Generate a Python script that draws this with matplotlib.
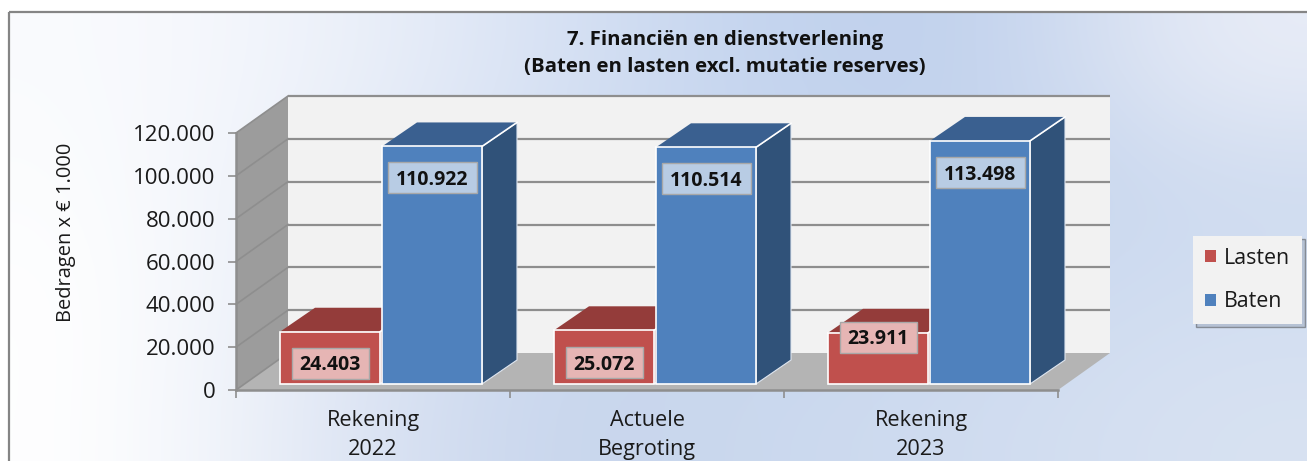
import numpy as np
import matplotlib
matplotlib.use("Agg")
import matplotlib.pyplot as plt
from matplotlib.colors import to_rgb
from matplotlib.patches import Patch, Polygon, Rectangle

# data
categories = ["Rekening\n2022", "Actuele\nBegroting", "Rekening\n2023"]
lasten = [24403, 25072, 23911]
baten = [110922, 110514, 113498]
yticks = [0, 20000, 40000, 60000, 80000, 100000, 120000]

W, H = 1307, 461
plt.rcParams["font.family"] = ["Open Sans", "DejaVu Sans"]

# front plane of the 3d box, in pixels of the figure
ax_left, ax_right, ax_bottom, ax_top = 236, 1058, 390, 133
px_x = 3 / (ax_right - ax_left)
px_y = 120000 / (ax_bottom - ax_top)

fig = plt.figure(figsize=(W / 100, H / 100), dpi=100)

# background gradient
bg = fig.add_axes([0, 0, 1, 1], zorder=0)
bg.set_axis_off()
grid = [
    ["#fafbfe", "#eef2fa", "#d8e2f4", "#c2d3ee", "#bfd0ec", "#e9edf7"],
    ["#fcfdfe", "#e8edf8", "#d2def2", "#c6d5ee", "#c3d3ed", "#d0dcf0"],
    ["#ffffff", "#e4eaf6", "#cad8ef", "#c6d5ee", "#cbd9f0", "#d2def1"],
    ["#ffffff", "#e0e7f5", "#c6d4ec", "#cbd9ee", "#d0dcf0", "#d8e2f2"],
]
img = np.array([[to_rgb(c) for c in row] for row in grid])
bg.imshow(img, extent=(8, W, H, 12), aspect="auto", interpolation="bicubic")
bg.set_xlim(0, W)
bg.set_ylim(H, 0)
bg.add_patch(Rectangle((9, 12), W + 20, H + 20, fc="none", ec="#858585", lw=1.6))

ax = fig.add_axes([ax_left / W, 1 - ax_bottom / H, (ax_right - ax_left) / W,
                   (ax_bottom - ax_top) / H], zorder=1)
ax.patch.set_visible(False)
ax.set_xlim(0, 3)
ax.set_ylim(0, 120000)

depth_x = 52 * px_x
depth_y = 37 * px_y
grey = "#8e8e8e"


def poly(points, color, z, **kw):
    ax.add_patch(Polygon(points, closed=True, fc=color, ec=kw.pop("ec", "none"),
                         clip_on=False, zorder=z, **kw))


# walls and floor
poly([(depth_x, depth_y), (3 + depth_x, depth_y), (3 + depth_x, 120000 + depth_y),
      (depth_x, 120000 + depth_y)], "#f2f2f2", 1)
poly([(0, 0), (depth_x, depth_y), (depth_x, 120000 + depth_y), (0, 120000)], "#9c9c9c", 1)
poly([(0, 0), (3, 0), (3 + depth_x, depth_y), (depth_x, depth_y)], "#b4b4b4", 1)

# gridlines, back wall + side wall
for v in yticks:
    if v > 0:
        ax.plot([depth_x, 3 + depth_x], [v + depth_y, v + depth_y], color=grey, lw=1.6,
                clip_on=False, zorder=2, solid_capstyle="butt")
    ax.plot([0, depth_x], [v, v + depth_y], color=grey, lw=1.2, clip_on=False, zorder=2)

# bars
bar_start = 44 * px_x
bar_w = 100 * px_x
bar_gap = 2 * px_x
bar_dx = 35 * px_x
bar_dy = 24 * px_y
base = 6 * px_y


def box(x0, value, front, top, side, z):
    x1 = x0 + bar_w
    y1 = base + value
    poly([(x1, base), (x1 + bar_dx, base + bar_dy), (x1 + bar_dx, y1 + bar_dy), (x1, y1)],
         side, z, ec="#dfe6f0", lw=0.8)
    poly([(x0, y1), (x0 + bar_dx, y1 + bar_dy), (x1 + bar_dx, y1 + bar_dy), (x1, y1)],
         top, z, ec="none")
    ax.plot([x1, x1 + bar_dx], [y1, y1 + bar_dy], color="white", lw=1.2, clip_on=False, zorder=z + 0.2)
    poly([(x0, base), (x1, base), (x1, y1), (x0, y1)], front, z + 0.1, ec="white", lw=1.2)


def value_label(xc, yc, value, w_px, h_px, color):
    ax.add_patch(Rectangle((xc - w_px / 2 * px_x, yc - h_px / 2 * px_y), w_px * px_x, h_px * px_y,
                           fc=color, ec="#a8a8a8", lw=1, clip_on=False, zorder=6))
    ax.text(xc, yc, f"{value:,}".replace(",", "."), ha="center", va="center_baseline",
            fontsize=14, fontweight="bold", color="#111111", zorder=7)


for i in range(3):
    x_l = i + bar_start
    x_b = x_l + bar_w + bar_gap
    box(x_l, lasten[i], "#c0504d", "#943c3a", "#943c3a", 3)
    box(x_b, baten[i], "#4f81bd", "#3a6090", "#305279", 4)

# value labels
lasten_label_y = [21 * px_y, 22 * px_y, 47 * px_y]
for i in range(3):
    x_l = i + bar_start + bar_w / 2
    x_b = x_l + bar_w + bar_gap
    value_label(x_l, base + lasten_label_y[i], lasten[i], 77, 31, "#e6b5b4")
    value_label(x_b, base + baten[i] - 31.5 * px_y, baten[i], 89, 31, "#b8cce4")

# axes
for s in ["top", "right"]:
    ax.spines[s].set_visible(False)
for s in ["left", "bottom"]:
    ax.spines[s].set_color(grey)
    ax.spines[s].set_linewidth(1.8)
    ax.spines[s].set_zorder(2.5)
ax.set_yticks(yticks)
ax.set_yticklabels([f"{v:,}".replace(",", ".") for v in yticks])
ax.tick_params(axis="y", length=6, width=1.2, color=grey, pad=9, labelsize=16, labelcolor="#1a1a1a")
ax.set_xticks([0.5, 1.5, 2.5])
ax.set_xticklabels(categories, linespacing=1.5)
ax.tick_params(axis="x", which="major", length=0, pad=14.5, labelsize=15.6, labelcolor="#1a1a1a")
ax.set_xticks([0, 1, 2, 3], minor=True)
ax.tick_params(axis="x", which="minor", length=6, width=1.2, color=grey)

fig.text(66 / W, 1 - 232 / H, "Bedragen x € 1.000", rotation=90, ha="center", va="center",
         fontsize=14.4, color="#1a1a1a", zorder=5)
fig.text(725 / W, 1 - 53.5 / H, "7. Financiën en dienstverlening\n(Baten en lasten excl. mutatie reserves)",
         ha="center", va="center", fontsize=14.7, fontweight="bold", color="#111111",
         linespacing=1.45, zorder=5)

handles = [Patch(fc="#c0504d", label="Lasten"), Patch(fc="#4f81bd", label="Baten")]
leg = fig.legend(handles=handles, loc="center", bbox_to_anchor=(1247.5 / W, 1 - 280 / H),
                 frameon=True, fancybox=False, facecolor="#f2f2f2", edgecolor="none", framealpha=1,
                 fontsize=15.4, handlelength=0.5, handleheight=0.5, handletextpad=0.4,
                 labelspacing=1.05, borderpad=0.55, labelcolor="#1a1a1a",
                 shadow={"ox": 2, "oy": -2, "fc": "#9aa6b8", "alpha": 0.5})
leg.set_zorder(5)

fig.savefig("out.png", dpi=100)
